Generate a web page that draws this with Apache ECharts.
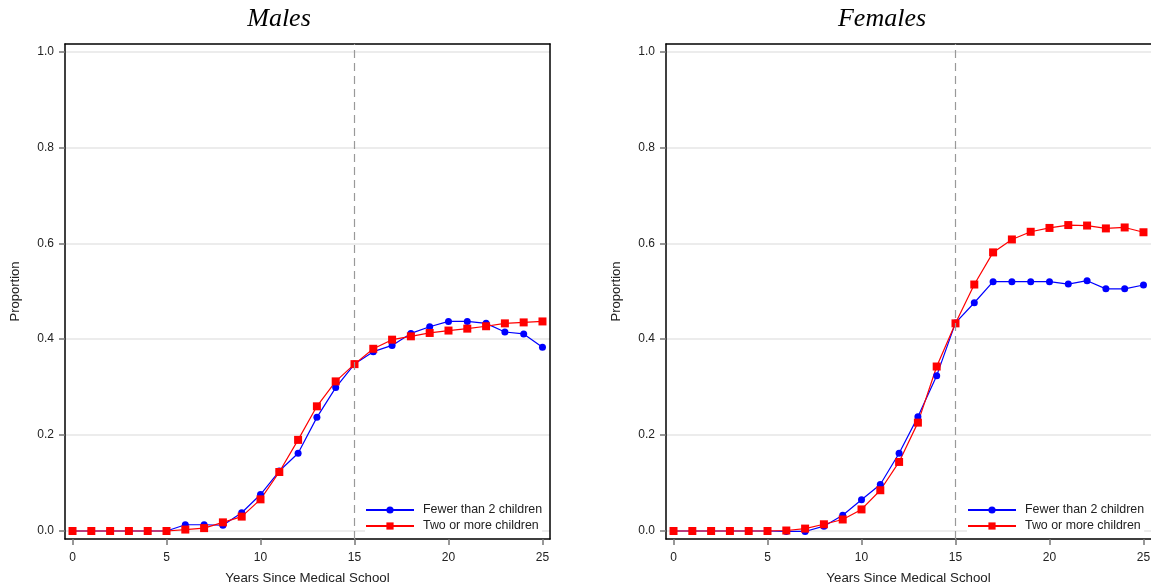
<!DOCTYPE html>
<html>
<head>
<meta charset="utf-8">
<script src="https://cdn.jsdelivr.net/npm/echarts@6/dist/echarts.min.js"></script>
<style>
html,body{margin:0;padding:0;background:#fff;}
#chart{width:1151px;height:588px;}
</style>
</head>
<body>
<div id="chart"></div>
<script>
// ---- data ----
var years = [0,1,2,3,4,5,6,7,8,9,10,11,12,13,14,15,16,17,18,19,20,21,22,23,24,25];
var maleFewer = [0,0,0,0,0,0,0.013,0.013,0.012,0.038,0.076,0.125,0.162,0.237,0.299,0.348,0.374,0.387,0.412,0.426,0.437,0.437,0.433,0.415,0.411,0.383];
var maleTwo   = [0,0,0,0,0,0,0.003,0.006,0.018,0.030,0.066,0.123,0.190,0.260,0.312,0.348,0.380,0.399,0.406,0.413,0.418,0.422,0.427,0.433,0.435,0.437];
var femaleFewer = [0,0,0,0,0,0,-0.001,-0.001,0.010,0.033,0.065,0.097,0.162,0.238,0.324,0.434,0.476,0.520,0.520,0.520,0.520,0.515,0.522,0.505,0.505,0.513];
var femaleTwo   = [0,0,0,0,0,0,0.001,0.005,0.014,0.024,0.045,0.085,0.144,0.226,0.343,0.433,0.514,0.581,0.608,0.624,0.632,0.638,0.637,0.631,0.633,0.623];
var xTicks = [0,5,10,15,20,25];
var yTicks = [0,0.2,0.4,0.6,0.8,1.0];
var panelTitles = ['Males','Females'];
var seriesNames = ['Fewer than 2 children','Two or more children'];
var cutoffYear = 15;

function pairs(vals){ return years.map(function(y,i){ return [y, vals[i]]; }); }

var FONT = '"Liberation Sans", Arial, sans-serif';
var chart = echarts.init(document.getElementById('chart'), null, {renderer:'canvas'});

function xAxisCfg(gi){
  return {
    type:'value', gridIndex:gi, min:-0.4, max:25.4,
    name:'Years Since Medical School', nameLocation:'middle', nameGap:33,
    nameTextStyle:{fontFamily:FONT, fontSize:13.3, color:'#222'},
    axisLine:{show:true, onZero:false, lineStyle:{color:'#000', width:1.5}},
    axisTick:{show:true, length:6, customValues:xTicks, lineStyle:{color:'#777', width:1.5}},
    axisLabel:{customValues:xTicks, margin:13, fontFamily:FONT, fontSize:12, color:'#222',
      formatter:function(v){return String(Math.round(v));}},
    splitLine:{show:false}
  };
}
function xTopCfg(gi){
  return {
    type:'value', gridIndex:gi, min:-0.4, max:25.4, position:'top',
    axisLine:{show:true, onZero:false, lineStyle:{color:'#000', width:1.5}},
    axisTick:{show:false}, axisLabel:{show:false}, splitLine:{show:false}
  };
}
function yAxisCfg(gi){
  return {
    type:'value', gridIndex:gi, min:-0.0167, max:1.0156,
    name:'Proportion', nameLocation:'middle', nameGap:43,
    nameTextStyle:{fontFamily:FONT, fontSize:13, color:'#222'},
    axisLine:{show:true, onZero:false, lineStyle:{color:'#000', width:1.5}},
    axisTick:{show:true, length:6, customValues:yTicks, lineStyle:{color:'#777', width:1.5}},
    axisLabel:{customValues:yTicks, margin:11, fontFamily:FONT, fontSize:12, color:'#222',
      formatter:function(v){return v.toFixed(1);}},
    splitLine:{show:true, lineStyle:{color:'#e6e6e6', width:1.5}}
  };
}
function yRightCfg(gi, showLine){
  return {
    type:'value', gridIndex:gi, min:-0.0167, max:1.0156, position:'right',
    axisLine:{show:showLine, onZero:false, lineStyle:{color:'#000', width:1.5}},
    axisTick:{show:false}, axisLabel:{show:false}, splitLine:{show:false}
  };
}

function lineSeries(name, vals, gi, color, symbol, size, withCut){
  var s = {
    name:name, type:'line', xAxisIndex:gi*2, yAxisIndex:gi*2,
    data:pairs(vals), symbol:symbol, symbolSize:size, showSymbol:true,
    lineStyle:{color:color, width:1.2}, itemStyle:{color:color},
    z:3, animation:false
  };
  if (withCut) {
    s.markLine = {
      silent:true, symbol:['none','none'], label:{show:false},
      lineStyle:{color:'#999', type:[8,5], width:1.2},
      data:[{xAxis:cutoffYear}]
    };
  }
  return s;
}

function legendCfg(left){
  return {left:left, top:503, orient:'vertical', padding:0, itemGap:2, itemWidth:48, itemHeight:9,
    backgroundColor:'#fff',
    textStyle:{fontFamily:FONT, fontSize:12.4, color:'#222', lineHeight:14, padding:[0,0,0,4]},
    data:[{name:seriesNames[0]},{name:seriesNames[1]}], selectedMode:false};
}

var option = {
  animation:false,
  backgroundColor:'#fff',
  grid:[
    {left:65, top:44, width:485, height:495, containLabel:false, outerBoundsMode:'none'},
    {left:666, top:44, width:485, height:495, containLabel:false, outerBoundsMode:'none'}
  ],
  xAxis:[xAxisCfg(0), xTopCfg(0), xAxisCfg(1), xTopCfg(1)],
  yAxis:[yAxisCfg(0), yRightCfg(0, true), yAxisCfg(1), yRightCfg(1, false)],
  legend:[legendCfg(365), legendCfg(967)],
  graphic:[
    {type:'text', x:279, y:19, style:{text:panelTitles[0], textAlign:'center', textVerticalAlign:'middle',
      font:'italic 26px "Liberation Serif", "Times New Roman", serif', fill:'#000'}},
    {type:'text', x:882, y:19, style:{text:panelTitles[1], textAlign:'center', textVerticalAlign:'middle',
      font:'italic 26px "Liberation Serif", "Times New Roman", serif', fill:'#000'}}
  ],
  series:[
    lineSeries(seriesNames[0], maleFewer, 0, '#0000ff', 'circle', 7, true),
    lineSeries(seriesNames[1], maleTwo, 0, '#ff0000', 'rect', 8, false),
    lineSeries(seriesNames[0], femaleFewer, 1, '#0000ff', 'circle', 7, true),
    lineSeries(seriesNames[1], femaleTwo, 1, '#ff0000', 'rect', 8, false)
  ]
};
chart.setOption(option);
</script>
</body>
</html>
